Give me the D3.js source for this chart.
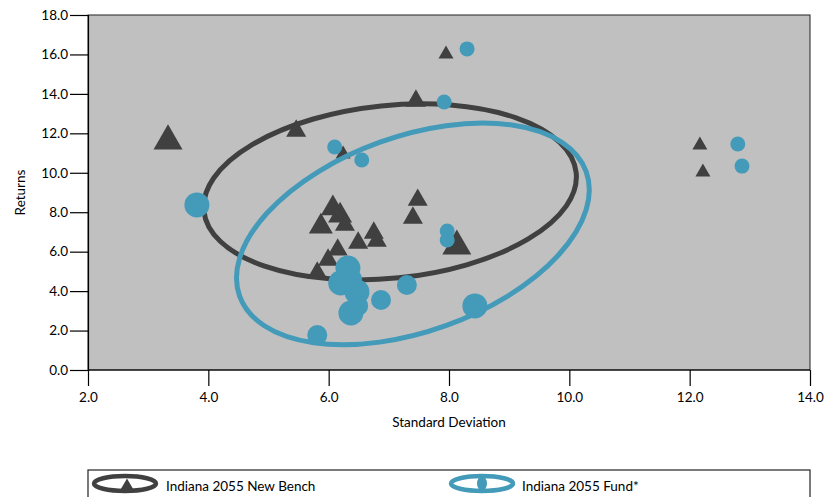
<!DOCTYPE html>
<html>
<head>
<meta charset="utf-8">
<script src="https://cdn.jsdelivr.net/npm/d3@7"></script>
<style>
  html, body { margin: 0; padding: 0; background: #ffffff; }
  svg { display: block; font-family: "Lato", "Open Sans", sans-serif; }
</style>
</head>
<body>
<svg id="chart" width="825" height="497"></svg>
<script>
// ---------------- data ----------------
const xTicks = [2, 4, 6, 8, 10, 12, 14];
const yTicks = [0, 2, 4, 6, 8, 10, 12, 14, 16, 18];
const seriesNames = ["Indiana 2055 New Bench", "Indiana 2055 Fund*"];

// Indiana 2055 New Bench: standard deviation, return, marker tier
const benchSD     = [3.33, 5.46, 7.45, 7.95, 6.24, 12.17, 12.22, 7.48, 7.40, 8.13, 6.07, 6.19, 5.87, 6.27, 6.75, 6.80, 6.49, 6.15, 5.99, 5.81];
const benchReturn = [11.82, 12.27, 13.79, 16.13, 11.05, 11.51, 10.14, 8.77, 7.86, 6.49, 8.37, 8.01, 7.45, 7.50, 7.10, 6.69, 6.59, 6.24, 5.73, 5.07];
const benchTier   = [4, 2, 2, 1, 1, 1, 1, 2, 2, 4, 3, 3, 3, 2, 2, 2, 2, 2, 2, 2];

// Indiana 2055 Fund*: standard deviation, return, marker tier
const fundSD     = [3.81, 6.10, 6.55, 7.92, 8.30, 12.80, 12.87, 7.97, 7.97, 7.30, 8.43, 5.81, 6.87, 6.32, 6.39, 6.20, 6.47, 6.49, 6.37];
const fundReturn = [8.37, 11.31, 10.65, 13.59, 16.28, 11.46, 10.34, 7.05, 6.59, 4.31, 3.25, 1.77, 3.55, 5.17, 4.61, 4.41, 3.96, 3.25, 2.89];
const fundTier   = [3, 1, 1, 1, 1, 1, 1, 1, 1, 2, 3, 2, 2, 3, 2, 3, 3, 2, 3];

// ellipses: centre (SD, return), semi-axes in SD units, rotation (deg)
const benchEllipse = { cx: 7.02, cy: 9.03, a: 3.11, b: 1.436, angle: -5.85 };
const fundEllipse  = { cx: 7.40, cy: 6.90, a: 3.06, b: 1.62, angle: -19.75 };

// ---------------- layout ----------------
const dark = "#404040", teal = "#439ab9", plotBg = "#c0c0c0";
const svg = d3.select("#chart");
const L = 88, R = 810, T = 15, B = 370;
const x = d3.scaleLinear().domain([2, 14]).range([L, R]);
const y = d3.scaleLinear().domain([0, 18]).range([B, T]);
const triW = d3.scaleOrdinal().domain([1, 2, 3, 4]).range([15, 20, 24, 29]);
const dotR = d3.scaleOrdinal().domain([1, 2, 3]).range([7.5, 10, 12.5]);

const bench = benchSD.map((d, i) => ({ sd: d, r: benchReturn[i], t: benchTier[i] }));
const fund = fundSD.map((d, i) => ({ sd: d, r: fundReturn[i], t: fundTier[i] }));

function triPath(w) {
  const h = w * 0.866;
  return `M0,${-h / 2}L${w / 2},${h / 2}L${-w / 2},${h / 2}Z`;
}

// plot background
svg.append("rect").attr("x", L).attr("y", T).attr("width", R - L).attr("height", B - T)
  .attr("fill", plotBg).attr("stroke", "#222").attr("stroke-width", 1);

// axes
const fmt = d3.format(".1f");
const gx = svg.append("g").attr("transform", `translate(0,${B})`)
  .call(d3.axisBottom(x).tickValues(xTicks).tickFormat(fmt).tickSize(16).tickPadding(6));
const gy = svg.append("g").attr("transform", `translate(${L},0)`)
  .call(d3.axisLeft(y).tickValues(yTicks).tickFormat(fmt).tickSize(18).tickPadding(2));
[gx, gy].forEach(g => {
  g.selectAll("path.domain").attr("stroke", "#000").attr("stroke-width", 1.2);
  g.selectAll(".tick line").attr("stroke", "#000").attr("stroke-width", 1.2);
  g.selectAll(".tick text").attr("font-family", "Lato, sans-serif").attr("font-size", 13.5).attr("fill", "#000");
});
gx.select("path.domain").attr("d", `M${L},0H${R}`);

svg.append("text").attr("x", (L + R) / 2).attr("y", 427).attr("text-anchor", "middle")
  .attr("font-size", 13.5).attr("fill", "#000").text("Standard Deviation");
svg.append("text").attr("transform", `translate(25,${(T + B) / 2}) rotate(-90)`)
  .attr("text-anchor", "middle").attr("font-size", 13.5).attr("fill", "#000").text("Returns");

function drawEllipse(e, color) {
  svg.append("ellipse")
    .attr("cx", 0).attr("cy", 0)
    .attr("rx", x(e.cx + e.a) - x(e.cx))
    .attr("ry", x(e.cx + e.b) - x(e.cx))
    .attr("transform", `translate(${x(e.cx)},${y(e.cy)}) rotate(${e.angle})`)
    .attr("fill", "none").attr("stroke", color).attr("stroke-width", 5);
}

drawEllipse(benchEllipse, dark);

svg.append("g").selectAll("path").data(bench).join("path")
  .attr("transform", d => `translate(${x(d.sd)},${y(d.r)})`)
  .attr("d", d => triPath(triW(d.t)))
  .attr("fill", dark);

drawEllipse(fundEllipse, teal);

svg.append("g").selectAll("circle").data(fund).join("circle")
  .attr("cx", d => x(d.sd)).attr("cy", d => y(d.r)).attr("r", d => dotR(d.t))
  .attr("fill", teal);

// legend
const lg = svg.append("g");
lg.append("rect").attr("x", L).attr("y", 470).attr("width", R - L).attr("height", 40)
  .attr("fill", "#fff").attr("stroke", "#222").attr("stroke-width", 1.2);
// bench item
lg.append("ellipse").attr("cx", 125).attr("cy", 483.5).attr("rx", 31).attr("ry", 7.5)
  .attr("fill", "none").attr("stroke", dark).attr("stroke-width", 4.5);
lg.append("path").attr("transform", "translate(127,484.5)").attr("d", triPath(14)).attr("fill", dark);
lg.append("text").attr("x", 166).attr("y", 491).attr("font-size", 13.5).attr("fill", "#000").text(seriesNames[0]);
// fund item
lg.append("ellipse").attr("cx", 482).attr("cy", 483.5).attr("rx", 31).attr("ry", 7.5)
  .attr("fill", "none").attr("stroke", teal).attr("stroke-width", 4.5);
lg.append("ellipse").attr("cx", 482).attr("cy", 483.5).attr("rx", 5).attr("ry", 7)
  .attr("fill", teal);
lg.append("text").attr("x", 522).attr("y", 491).attr("font-size", 13.5).attr("fill", "#000").text(seriesNames[1]);
</script>
</body>
</html>
